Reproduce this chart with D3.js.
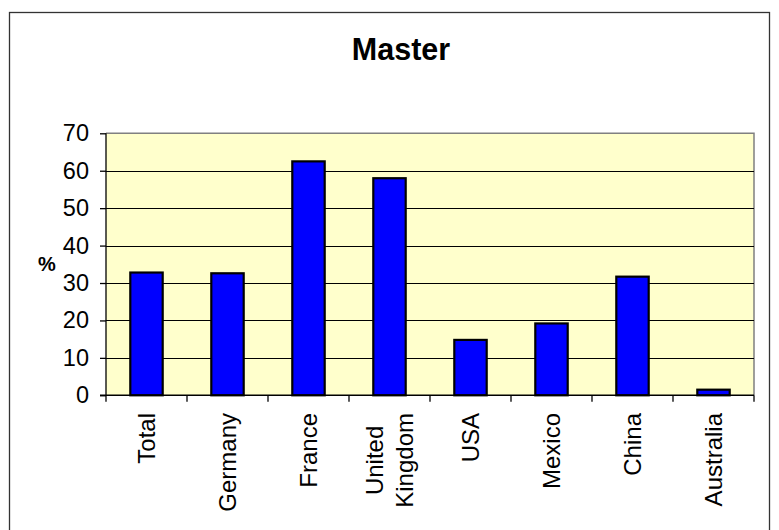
<!DOCTYPE html>
<html>
<head>
<meta charset="utf-8">
<script src="https://cdn.jsdelivr.net/npm/d3@7"></script>
<style>
  html, body { margin: 0; padding: 0; background: #fff; }
  svg { display: block; font-family: "Liberation Sans", Arial, sans-serif; }
</style>
</head>
<body>
<svg id="chart" width="779" height="530"></svg>
<script>
const categories = ["Total", "Germany", "France", "United\nKingdom", "USA", "Mexico", "China", "Australia"];
const values = [32.8, 32.6, 62.5, 58.0, 14.8, 19.2, 31.7, 1.5];
const yTicks = [0, 10, 20, 30, 40, 50, 60, 70];
const title = "Master";
const yLabel = "%";

const svg = d3.select("#chart");
const W = 779, H = 530;
const plot = { left: 106, right: 754, top: 133.3, bottom: 395.3 };

svg.append("rect").attr("width", W).attr("height", H).attr("fill", "#fff");
// outer chart border
svg.append("rect").attr("x", 9.5).attr("y", 12.5).attr("width", 760).attr("height", 540)
  .attr("fill", "none").attr("stroke", "#333").attr("stroke-width", 1.3);

svg.append("text").attr("x", 401).attr("y", 60).attr("text-anchor", "middle")
  .attr("font-size", 30.5).attr("font-weight", "bold").text(title);

const x = d3.scaleBand().domain(d3.range(categories.length))
  .range([plot.left, plot.right]).paddingInner(0.6).paddingOuter(0.3);
const xCat = d3.scaleBand().domain(d3.range(categories.length)).range([plot.left, plot.right]);
const y = d3.scaleLinear().domain([0, 70]).range([plot.bottom, plot.top]);

// plot background
svg.append("rect").attr("x", plot.left).attr("y", plot.top)
  .attr("width", plot.right - plot.left).attr("height", plot.bottom - plot.top)
  .attr("fill", "#FFFFCC");
// plot border (top/right grey)
svg.append("path").attr("d", `M${plot.left},${plot.top}H${plot.right}V${plot.bottom}`)
  .attr("fill", "none").attr("stroke", "#808080").attr("stroke-width", 1.5);

// gridlines
svg.append("g").selectAll("line").data(yTicks.filter(t => t > 0 && t < 70)).join("line")
  .attr("x1", plot.left).attr("x2", plot.right)
  .attr("y1", d => Math.round(y(d)) + 0.5).attr("y2", d => Math.round(y(d)) + 0.5)
  .attr("stroke", "#000").attr("stroke-width", 1);

// bars
svg.append("g").selectAll("rect").data(values).join("rect")
  .attr("x", (d, i) => x(i)).attr("width", x.bandwidth())
  .attr("y", d => y(d)).attr("height", d => plot.bottom - y(d))
  .attr("fill", "#0000FF").attr("stroke", "#000").attr("stroke-width", 2.2);

// y axis
const yAxis = d3.axisLeft(y).tickValues(yTicks).tickSize(6).tickPadding(11).tickFormat(d3.format("d"));
const gy = svg.append("g").attr("transform", `translate(${plot.left},0)`).call(yAxis);
gy.select(".domain").attr("stroke", "#000").attr("stroke-width", 1.3).attr("d", `M0,${plot.bottom}V${plot.top}`);
gy.selectAll(".tick line").attr("stroke", "#000").attr("stroke-width", 1.3);
gy.selectAll(".tick text").attr("font-size", 23.5).attr("font-family", "Liberation Sans, Arial, sans-serif").attr("fill", "#000");

// x axis
svg.append("line").attr("x1", plot.left - 6).attr("x2", plot.right)
  .attr("y1", plot.bottom).attr("y2", plot.bottom).attr("stroke", "#000").attr("stroke-width", 1.5);
const boundaries = d3.range(categories.length + 1).map(i => plot.left + i * xCat.step());
svg.append("g").selectAll("line").data(boundaries).join("line")
  .attr("x1", d => d).attr("x2", d => d).attr("y1", plot.bottom).attr("y2", plot.bottom + 6.5)
  .attr("stroke", "#000").attr("stroke-width", 1.3);

// category labels (rotated)
const fs = 24, lh = 30, labelTop = 413;
categories.forEach((c, i) => {
  const lines = c.split("\n");
  const cx = xCat(i) + xCat.step() / 2;
  const g = svg.append("g");
  const texts = lines.map((ln, j) => {
    const lx = cx + (j - (lines.length - 1) / 2) * lh + 0.36 * fs;
    return g.append("text").attr("font-size", fs).attr("text-anchor", "middle")
      .attr("data-x", lx).text(ln);
  });
  const maxLen = d3.max(texts, t => t.node().getComputedTextLength());
  texts.forEach(t => {
    const lx = +t.attr("data-x");
    const ly = labelTop + maxLen / 2;
    t.attr("transform", `translate(${lx},${ly}) rotate(-90)`);
  });
});

// y label
svg.append("text").attr("x", 47).attr("y", 271).attr("text-anchor", "middle")
  .attr("font-size", 20).attr("font-weight", "bold").text(yLabel);
</script>
</body>
</html>
